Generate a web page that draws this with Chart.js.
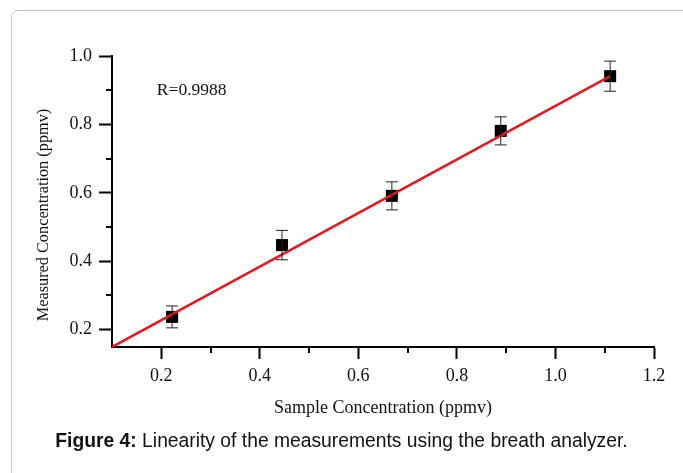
<!DOCTYPE html>
<html>
<head>
<meta charset="utf-8">
<script src="https://cdn.jsdelivr.net/npm/chart.js@4"></script>
<style>
  html, body { margin: 0; padding: 0; background: #fff; }
  #wrap { position: relative; width: 683px; height: 473px; overflow: hidden; }
  #frame {
    position: absolute; left: 11px; top: 10px; width: 700px; height: 500px;
    border: 1px solid #c4c4c4; border-radius: 7px; box-sizing: border-box;
  }
  #chart { position: absolute; left: 0; top: 0; }
  #caption {
    position: absolute; left: 0; top: 430px; width: 683px; text-align: center;
    font-family: "Liberation Sans", Arial, sans-serif; font-size: 19.3px; color: #111;
  }
</style>
</head>
<body>
<div id="wrap">
  <div id="frame"></div>
  <canvas id="chart" width="683" height="473"></canvas>
  <div id="caption"><b>Figure 4:</b> Linearity of the measurements using the breath analyzer.</div>
</div>
<script>
// measured points
const sampleConc = [0.222, 0.445, 0.668, 0.889, 1.111];
const measuredConc = [0.237, 0.447, 0.591, 0.781, 0.941];
const errors = [0.032, 0.043, 0.041, 0.041, 0.044];

// linear fit end points
const fitX = [0.1, 1.111];
const fitY = [0.149, 0.941];

const xTicks = [0.2, 0.4, 0.6, 0.8, 1.0, 1.2];
const xMinor = [0.3, 0.5, 0.7, 0.9, 1.1];
const yTicks = [0.2, 0.4, 0.6, 0.8, 1.0];
const yMinor = [0.3, 0.5, 0.7, 0.9];

const serif = "'Liberation Serif', 'Times New Roman', serif";

// error bars, minor ticks, y title and the R label
const extras = {
  id: "extras",
  afterDatasetsDraw(chart) {
    const ctx = chart.ctx;
    const x = chart.scales.x, y = chart.scales.y;
    ctx.save();
    ctx.strokeStyle = "#222";
    ctx.lineWidth = 1;
    sampleConc.forEach((v, i) => {
      const px = x.getPixelForValue(v);
      const top = y.getPixelForValue(measuredConc[i] + errors[i]);
      const bot = y.getPixelForValue(measuredConc[i] - errors[i]);
      ctx.beginPath();
      ctx.moveTo(px, top); ctx.lineTo(px, bot);
      ctx.moveTo(px - 6, top); ctx.lineTo(px + 6, top);
      ctx.moveTo(px - 6, bot); ctx.lineTo(px + 6, bot);
      ctx.stroke();
    });
    ctx.restore();
  },
  afterDraw(chart) {
    const ctx = chart.ctx;
    const x = chart.scales.x, y = chart.scales.y;
    const area = chart.chartArea;
    ctx.save();
    ctx.strokeStyle = "#000";
    ctx.lineWidth = 2;
    ctx.beginPath();
    xMinor.forEach(v => {
      const px = Math.round(x.getPixelForValue(v));
      ctx.moveTo(px, area.bottom); ctx.lineTo(px, area.bottom + 6);
    });
    yMinor.forEach(v => {
      const py = Math.round(y.getPixelForValue(v));
      ctx.moveTo(area.left, py); ctx.lineTo(area.left - 6, py);
    });
    ctx.stroke();

    ctx.fillStyle = "#111";
    ctx.font = "17.5px " + serif;
    ctx.textBaseline = "middle";
    ctx.fillText("R=0.9988", x.getPixelForValue(0.191), y.getPixelForValue(0.898));

    // y axis title, sits a little below the middle of the axis
    ctx.font = "16.3px " + serif;
    ctx.textAlign = "center";
    ctx.translate(44, y.getPixelForValue(0.535));
    ctx.rotate(-Math.PI / 2);
    ctx.fillText("Measured Concentration (ppmv)", 0, 0);
    ctx.restore();
  }
};

new Chart(document.getElementById("chart"), {
  data: {
    datasets: [
      {
        type: "line",
        label: "Fit",
        data: fitX.map((v, i) => ({ x: v, y: fitY[i] })),
        borderColor: "#e8161e",
        borderWidth: 2.5,
        pointRadius: 0,
        fill: false
      },
      {
        type: "scatter",
        label: "Measured",
        data: sampleConc.map((v, i) => ({ x: v, y: measuredConc[i] })),
        pointStyle: "rect",
        pointRadius: 8.5,
        backgroundColor: "#000",
        borderColor: "#000",
        borderWidth: 0
      }
    ]
  },
  options: {
    responsive: false,
    animation: false,
    layout: { padding: { left: 0, top: 56, right: 29, bottom: 50 } },
    plugins: { legend: { display: false }, tooltip: { enabled: false } },
    scales: {
      x: {
        type: "linear",
        min: 0.1,
        max: 1.2,
        afterBuildTicks: s => { s.ticks = xTicks.map(v => ({ value: v })); },
        afterFit: s => { s.height = 76; },
        border: { color: "#000", width: 2 },
        grid: { drawOnChartArea: false, tickLength: 12, tickWidth: 2, tickColor: "#000" },
        ticks: {
          color: "#111",
          padding: 6,
          font: { family: serif, size: 18 },
          callback: v => v.toFixed(1)
        },
        title: {
          display: true,
          text: "Sample Concentration (ppmv)",
          color: "#111",
          font: { family: serif, size: 18 },
          padding: { top: 4, bottom: 4 }
        }
      },
      y: {
        type: "linear",
        min: 0.149,
        max: 1.0,
        afterBuildTicks: s => { s.ticks = yTicks.map(v => ({ value: v })); },
        afterFit: s => { s.width = 112; },
        border: { color: "#000", width: 2 },
        grid: { drawOnChartArea: false, tickLength: 13, tickWidth: 2, tickColor: "#000" },
        ticks: {
          color: "#111",
          padding: 7,
          font: { family: serif, size: 18 },
          callback: v => v.toFixed(1)
        }
      }
    }
  },
  plugins: [extras]
});
</script>
</body>
</html>
